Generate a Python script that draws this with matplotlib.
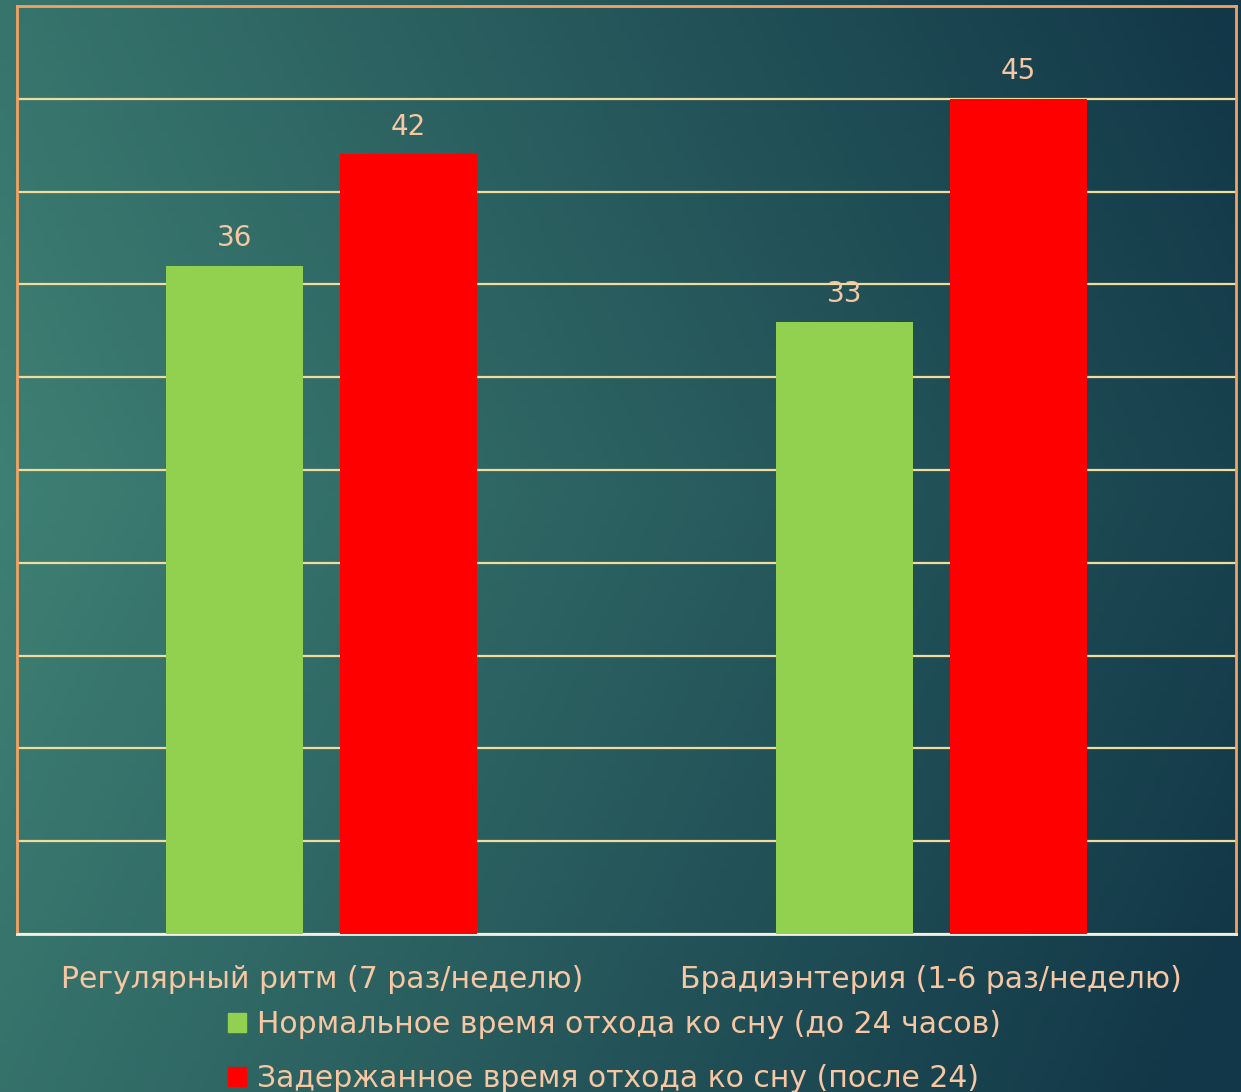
import matplotlib.pyplot as plt
import numpy as np
from matplotlib.patches import Patch

categories = ["Регулярный ритм (7 раз/неделю)", "Брадиэнтерия (1-6 раз/неделю)"]
series_names = ["Нормальное время отхода ко сну (до 24 часов)",
                "Задержанное время отхода ко сну (после 24)"]
normal = [36, 33]
delayed = [42, 45]

txt = "#f6c7a2"
green = "#92d050"
red = "#ff0000"

plt.rcParams['font.family'] = ['DejaVu Sans']

fig = plt.figure(figsize=(12.41, 10.92), dpi=100)

# background gradient
bg = fig.add_axes([0, 0, 1, 1])
h, w = 200, 200
yy, xx = np.mgrid[0:1:h * 1j, 0:1:w * 1j]
left = np.array([62, 128, 115]) / 255
right = np.array([18, 55, 72]) / 255
t = np.clip(xx * 0.85 + np.abs(yy - 0.45) * 0.35, 0, 1)[..., None]
img = left * (1 - t) + right * t
bg.imshow(img, aspect='auto', extent=[0, 1, 0, 1], origin='upper')
bg.axis('off')

ax = fig.add_axes([17 / 1241, 1 - 934 / 1092, 1219 / 1241, 928 / 1092])
ax.set_facecolor('none')
x = np.arange(len(categories))
bw = 0.225
off = 0.1427
b1 = ax.bar(x - off, normal, bw, color=green, zorder=3)
b2 = ax.bar(x + off, delayed, bw, color=red, zorder=3)
for bars, vals in [(b1, normal), (b2, delayed)]:
    for b, v in zip(bars, vals):
        ax.text(b.get_x() + b.get_width() / 2, v + 0.75, str(v), ha='center',
                va='bottom', color=txt, fontsize=20)

ax.set_xlim(-0.5, 1.5)
ax.set_ylim(0, 50)
ax.set_yticks(np.arange(0, 51, 5))
ax.yaxis.grid(True, color="#f2dc9c", linewidth=1.6, zorder=1)
ax.set_axisbelow(True)
ax.tick_params(left=False, labelleft=False, bottom=False)
ax.set_xticks(x)
ax.set_xticklabels(categories, color=txt, fontsize=21.5)
ax.tick_params(axis='x', pad=19)
for s in ['left', 'top', 'right']:
    ax.spines[s].set_color("#f4a262")
    ax.spines[s].set_linewidth(2)
ax.spines['bottom'].set_color("#f4f0e8")
ax.spines['bottom'].set_linewidth(2)

handles = [Patch(color=green), Patch(color=red)]
fig.legend(handles, series_names, loc='upper center', bbox_to_anchor=(0.495, 1 - 1010 / 1092),
           frameon=False, fontsize=21.5, labelcolor=txt, handlelength=0.6, handleheight=0.6,
           handletextpad=0.35, labelspacing=0.85, ncol=1, borderpad=0, borderaxespad=0)

fig.savefig("out.png", dpi=100)
